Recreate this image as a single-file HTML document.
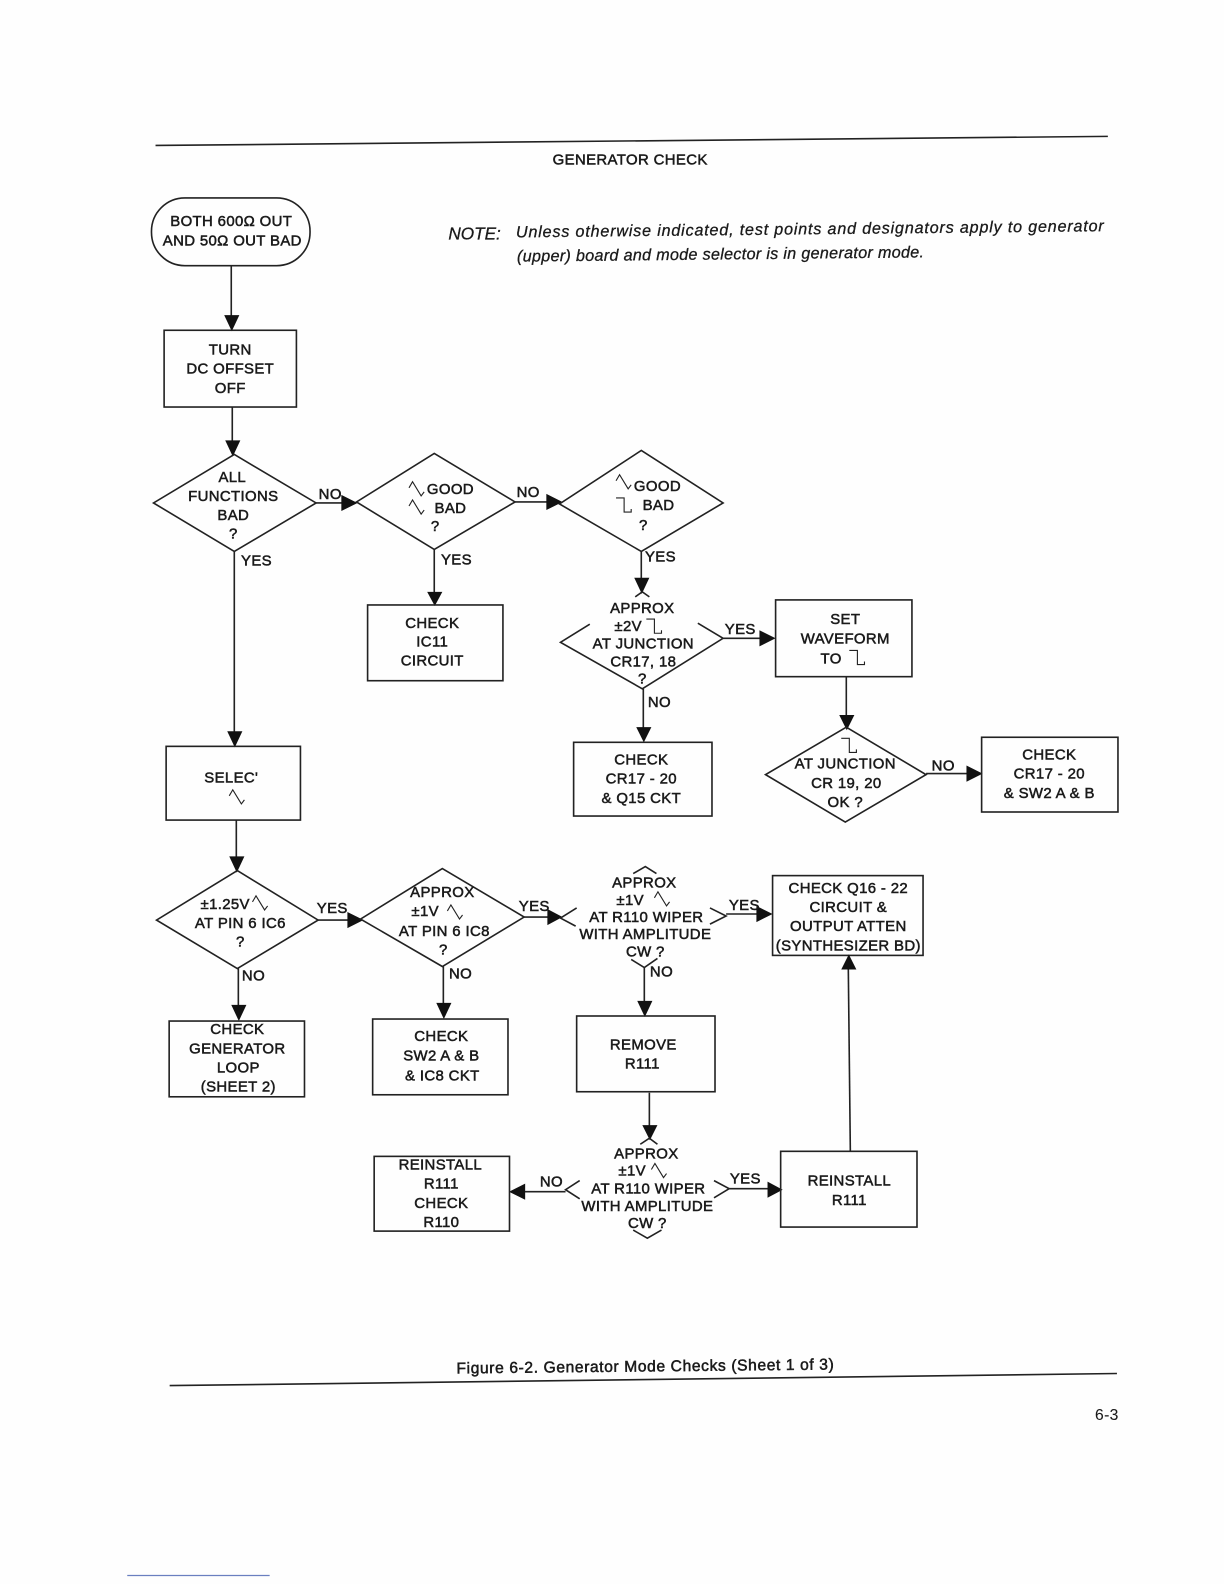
<!DOCTYPE html>
<html><head><meta charset="utf-8"><style>
html,body{margin:0;padding:0;background:#fefefe}
svg{display:block}
text{font-family:"Liberation Sans",sans-serif;font-size:14.8px;letter-spacing:.35px;fill:#1a1a1a;text-anchor:middle;stroke:#1a1a1a;stroke-width:.5px}
.l{fill:none;stroke:#222;stroke-width:1.6}
.a{fill:#111;stroke:none}
.w{fill:none;stroke:#222;stroke-width:1.1}
.it{font-style:italic;font-size:16px;letter-spacing:0;text-anchor:start;stroke-width:.3px}
</style></head><body>
<svg width="1224" height="1584" viewBox="0 0 1212 1568.4" xmlns="http://www.w3.org/2000/svg">
<defs>
<path id="t" class="w" d="M0 6 L3.500 0 L12 14 L15 10"/>
<path id="s" class="w" d="M0 1 H8 V15 H15 V12"/>
</defs>
<line class="l" x1="154" y1="144" x2="1097" y2="135"/>
<text x="624" y="163">GENERATOR CHECK</text>
<text class="it" x="444" y="237" style="font-size:17px">NOTE:</text>
<text class="it" x="511" y="235" textLength="582" lengthAdjust="spacing" transform="rotate(-.6 511 235)">Unless otherwise indicated, test points and designators apply to generator</text>
<text class="it" x="512" y="259" textLength="403" transform="rotate(-.6 512 259)">(upper) board and mode selector is in generator mode.</text>

<rect class="l" x="150" y="196" width="157" height="67" rx="33" ry="33"/>
<text x="229" y="224">BOTH 600Ω OUT</text>
<text x="230" y="243">AND 50Ω OUT BAD</text>
<path class="l" d="M229 263V314"/><path class="a" d="M222 312h15l-7.500 16z"/>

<rect class="l" x="162.500" y="327" width="131" height="76"/>
<text x="228" y="351">TURN</text><text x="228" y="370">DC OFFSET</text><text x="228" y="389">OFF</text>
<path class="l" d="M230 403V438"/><path class="a" d="M223 436h15l-7.500 16z"/>

<path class="l" d="M232 450L313 498L232 546L152 498Z"/>
<text x="230" y="477">ALL</text><text x="231" y="496">FUNCTIONS</text><text x="231" y="515">BAD</text><text x="231" y="533">?</text>
<path class="l" d="M313 498H340"/><path class="a" d="M338 490v16l16-8z"/>
<text x="327" y="494">NO</text>
<path class="l" d="M232 546V726"/><path class="a" d="M225 724h15l-7.500 16z"/>
<text x="254" y="560">YES</text>

<path class="l" d="M430 449L510 497L430 544L353 497Z"/>
<use href="#t" x="405" y="477"/><text x="446" y="489">GOOD</text>
<use href="#t" x="405" y="495"/><text x="446" y="508">BAD</text><text x="431" y="526">?</text>
<path class="l" d="M510 497H543"/><path class="a" d="M541 489v16l16-8z"/>
<text x="523" y="492">NO</text>
<path class="l" d="M430 544V588"/><path class="a" d="M423 586h15l-7.500 14z"/>
<text x="452" y="559">YES</text>

<path class="l" d="M635 446L716 498L635 546L554 499Z"/>
<use href="#t" x="610" y="470"/><text x="651" y="486">GOOD</text>
<use href="#s" x="610" y="492"/><text x="652" y="505">BAD</text><text x="637" y="525">?</text>
<path class="l" d="M635 546V574"/><path class="a" d="M628 572h15l-7.500 16z"/>
<text x="654" y="556">YES</text>

<rect class="l" x="364" y="599" width="134" height="75"/>
<text x="428" y="622">CHECK</text><text x="428" y="640">IC11</text><text x="428" y="659">CIRCUIT</text>

<path class="l" d="M629 591L636 586L643 591M584 618L555 636L636 682L716 632L691 617"/>
<text x="636" y="607">APPROX</text>
<text x="622" y="625">±2V</text><use href="#s" x="640" y="612"/>
<text x="637" y="642">AT JUNCTION</text><text x="637" y="660">CR17, 18</text><text x="636" y="677">?</text>
<path class="l" d="M716 632H754"/><path class="a" d="M752 624v16l16-8z"/>
<text x="733" y="628">YES</text>
<path class="l" d="M637 682V722"/><path class="a" d="M630 720h15l-7.500 15z"/>
<text x="653" y="700">NO</text>

<rect class="l" x="768" y="594" width="135" height="76"/>
<text x="837" y="618">SET</text><text x="837" y="637">WAVEFORM</text><text x="823" y="657">TO</text><use href="#s" x="841" y="643"/>
<path class="l" d="M838 670V710"/><path class="a" d="M831 708h15l-7.500 15z"/>

<path class="l" d="M838 720L917 767L837 814L758 767Z"/>
<use href="#s" x="833" y="730"/>
<text x="837" y="761">AT JUNCTION</text><text x="838" y="780">CR 19, 20</text><text x="837" y="799">OK ?</text>
<path class="l" d="M917 766H958"/><path class="a" d="M957 758v16l16-8z"/>
<text x="934" y="763">NO</text>

<rect class="l" x="972" y="730" width="135" height="74"/>
<text x="1039" y="752">CHECK</text><text x="1039" y="771">CR17 - 20</text><text x="1039" y="790">&amp; SW2 A &amp; B</text>

<rect class="l" x="568" y="735" width="137" height="73"/>
<text x="635" y="757">CHECK</text><text x="635" y="776">CR17 - 20</text><text x="635" y="795">&amp; Q15 CKT</text>

<rect class="l" x="164.500" y="739" width="133" height="73"/>
<text x="229" y="775">SELEC'</text><use href="#t" x="227" y="782"/>
<path class="l" d="M234 812V850"/><path class="a" d="M227 848h15l-7.500 16z"/>

<path class="l" d="M235 862L315 911L235 959L155 911Z"/>
<text x="223" y="900">±1.25V</text><use href="#t" x="250" y="887"/>
<text x="238" y="919">AT PIN 6 IC6</text><text x="238" y="937">?</text>
<path class="l" d="M315 911H346"/><path class="a" d="M344 903v16l16-8z"/>
<text x="329" y="904">YES</text>
<path class="l" d="M236 959V997"/><path class="a" d="M229 995h15l-7.500 16z"/>
<text x="251" y="971">NO</text>

<rect class="l" x="167.500" y="1011" width="134" height="75"/>
<text x="235" y="1024">CHECK</text><text x="235" y="1043">GENERATOR</text><text x="236" y="1062">LOOP</text><text x="236" y="1081">(SHEET 2)</text>

<path class="l" d="M438 860L519 908L438 957L357 910Z"/>
<text x="438" y="888">APPROX</text>
<text x="421" y="907">±1V</text><use href="#t" x="443" y="896"/>
<text x="440" y="927">AT PIN 6 IC8</text><text x="439" y="945">?</text>
<path class="l" d="M519 908H544"/><path class="a" d="M542 900v16l15-8z"/>
<text x="529" y="902">YES</text>
<path class="l" d="M439 957V995"/><path class="a" d="M432 993h15l-7.500 16z"/>
<text x="456" y="969">NO</text>

<rect class="l" x="369" y="1009" width="134" height="75"/>
<text x="437" y="1031">CHECK</text><text x="437" y="1050">SW2 A &amp; B</text><text x="438" y="1070">&amp; IC8 CKT</text>

<path class="l" d="M627 865L639 858L650 865M571 899L555 909L570 917M703 899L719 907L703 915M625 950L638 958L651 949"/>
<text x="638" y="879">APPROX</text>
<text x="624" y="896">±1V</text><use href="#t" x="648" y="883"/>
<text x="640" y="913">AT R110 WIPER</text><text x="639" y="930">WITH AMPLITUDE</text><text x="639" y="947">CW ?</text>
<path class="l" d="M719 905H751"/><path class="a" d="M749 897v16l16-8z"/>
<text x="737" y="901">YES</text>
<path class="l" d="M638 958V993"/><path class="a" d="M631 991h15l-7.500 16z"/>
<text x="655" y="967">NO</text>

<rect class="l" x="765" y="867" width="149" height="79"/>
<text x="840" y="884">CHECK Q16 - 22</text><text x="840" y="903">CIRCUIT &amp;</text><text x="840" y="922">OUTPUT ATTEN</text><text x="840" y="941">(SYNTHESIZER BD)</text>

<rect class="l" x="571" y="1006" width="137" height="75"/>
<text x="637" y="1039">REMOVE</text><text x="636" y="1058">R111</text>
<path class="l" d="M643 1082V1118"/><path class="a" d="M636 1114h15l-7.500 15z"/>

<path class="l" d="M634 1133L643 1127L651 1133M574 1169L560 1178L574 1187M707 1169L722 1177L707 1186M627 1218L641 1226L655 1218"/>
<text x="640" y="1147">APPROX</text>
<text x="626" y="1164">±1V</text><use href="#t" x="645" y="1152"/>
<text x="642" y="1182">AT R110 WIPER</text><text x="641" y="1199">WITH AMPLITUDE</text><text x="641" y="1216">CW ?</text>
<path class="l" d="M560 1180H518"/><path class="a" d="M520 1172v16l-16-8z"/>
<text x="546" y="1175">NO</text>
<path class="l" d="M722 1177H762"/><path class="a" d="M760 1170v16l15-8z"/>
<text x="738" y="1172">YES</text>

<rect class="l" x="370.500" y="1145" width="134" height="74"/>
<text x="436" y="1158">REINSTALL</text><text x="437" y="1177">R111</text><text x="437" y="1196">CHECK</text><text x="437" y="1215">R110</text>

<rect class="l" x="773" y="1140" width="135" height="75"/>
<text x="841" y="1174">REINSTALL</text><text x="841" y="1193">R111</text>
<path class="l" d="M842 1140L840 960"/><path class="a" d="M833 960h15l-7.500-15z"/>

<text x="639" y="1358" style="font-size:15.500px" textLength="374" transform="rotate(-.6 639 1358)">Figure 6-2.  Generator Mode Checks (Sheet 1 of 3)</text>
<line class="l" x1="168" y1="1372" x2="1106" y2="1360"/>
<text x="1096" y="1406" style="font-size:15.500px;stroke-width:.1px">6-3</text>
<line x1="126" y1="1560" x2="267" y2="1560" stroke="#6a7fc0" stroke-width="1.200"/>
</svg>
</body></html>
